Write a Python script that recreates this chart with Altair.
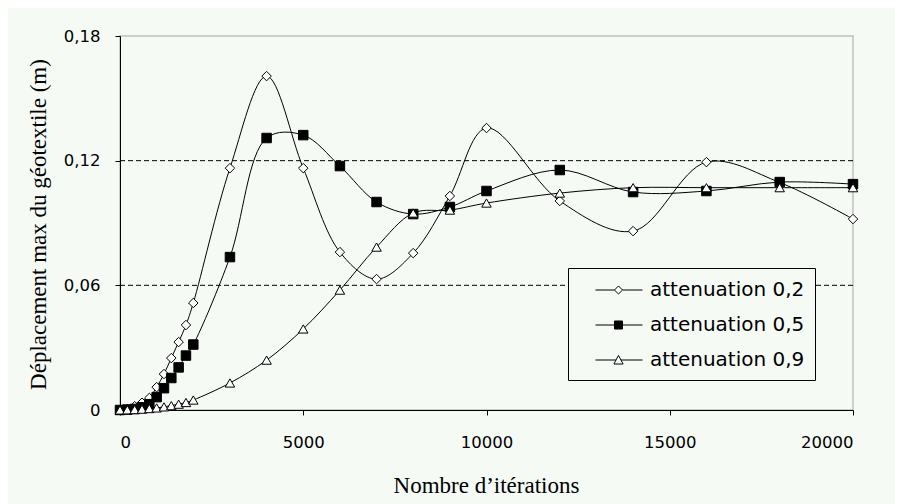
import altair as alt
import pandas as pd

# ---- data ----
iterations = [0, 200, 400, 600, 800, 1000, 1200, 1400, 1600, 1800, 2000,
              3000, 4000, 5000, 6000, 7000, 8000, 9000, 10000,
              12000, 14000, 16000, 18000, 20000]
att_02 = [0, 0.0006, 0.0018, 0.0035, 0.0058, 0.011, 0.0173, 0.025, 0.0327, 0.0409, 0.0515,
          0.1164, 0.1607, 0.1164, 0.076, 0.063, 0.0755, 0.103, 0.1357,
          0.1006, 0.0861, 0.1193, 0.1095, 0.0919]
att_05 = [0, 0.0002, 0.0005, 0.0013, 0.0028, 0.0062, 0.0105, 0.0154, 0.0205, 0.0262, 0.0315,
          0.0736, 0.1309, 0.1323, 0.1174, 0.1001, 0.0943, 0.0977, 0.1054,
          0.1155, 0.1049, 0.1054, 0.1097, 0.1087]
att_09 = [0, 0.0001, 0.0002, 0.0004, 0.0007, 0.001, 0.0015, 0.0021, 0.0028, 0.0036, 0.0048,
          0.013, 0.024, 0.039, 0.0577, 0.0784, 0.0948, 0.0962, 0.0996,
          0.1044, 0.107, 0.107, 0.107, 0.107]
series_names = ["attenuation 0,2", "attenuation 0,5", "attenuation 0,9"]
x_ticks = [0, 5000, 10000, 15000, 20000]
y_ticks = [0, 0.06, 0.12, 0.18]
y_tick_labels = ["0", "0,06", "0,12", "0,18"]
grid_values = [0.06, 0.12]

x_title = "Nombre d\u2019itérations"
y_title = "Déplacement max du géotextile (m)"

# ---- build tables ----
rows = []
for name, vals in zip(series_names, [att_02, att_05, att_09]):
    for it, v in zip(iterations, vals):
        rows.append({"iter": it, "disp": v, "series": name})
df = pd.DataFrame(rows)
grid_df = pd.DataFrame({"disp": grid_values})

y_label_expr = " : ".join(
    f"datum.value == {v} ? '{lab}'" for v, lab in zip(y_ticks, y_tick_labels)
) + " : ''"

x_axis = alt.Axis(values=x_ticks, format="d", title=x_title, tickSize=5,
                  labelPadding=19, titleX=366, titleY=82,
                  titleBaseline="alphabetic", titleAlign="center")
y_axis = alt.Axis(values=y_ticks, labelExpr=y_label_expr, title=y_title, tickSize=5,
                  labelPadding=15, titleX=-75, titleY=188, titleAngle=-90,
                  titleBaseline="alphabetic", titleAlign="center")
x_scale = alt.Scale(domain=[0, 20000], nice=False)
y_scale = alt.Scale(domain=[0, 0.18], nice=False)

X = alt.X("iter:Q", scale=x_scale, axis=x_axis)
Y = alt.Y("disp:Q", scale=y_scale, axis=y_axis)

grid = alt.Chart(grid_df).mark_rule(color="black", strokeDash=[5, 3], strokeWidth=1).encode(
    y=Y
)

lines = alt.Chart(df).mark_line(interpolate="catmull-rom", color="black", strokeWidth=1).encode(
    x=X, y=Y, detail="series:N"
)

points = alt.Chart(df).mark_point(filled=True, stroke="black", strokeWidth=1, size=90,
                                  opacity=1).encode(
    x=X, y=Y,
    shape=alt.Shape("series:N", scale=alt.Scale(domain=series_names,
                    range=["diamond", "square", "triangle-up"]), legend=None),
    fill=alt.Fill("series:N", scale=alt.Scale(domain=series_names,
                  range=["white", "black", "white"]), legend=None),
)

# legend symbols: line with marker in the middle
leg_diamond = "M0.478,0H2.128 M2.828,0H4.565 M2.478,-0.35L2.828,0L2.478,0.35L2.128,0Z"
leg_square = "M0.478,0H4.565 M2.128,-0.35H2.828V0.35H2.128Z"
leg_triangle = "M0.478,0H2.265 M2.691,0H4.565 M2.478,-0.4L2.878,0.35H2.078Z"

legend_layer = alt.Chart(df).transform_filter("false").mark_point(
    filled=True, strokeWidth=1, size=529, opacity=1).encode(
    x=X, y=Y,
    shape=alt.Shape("series:N", scale=alt.Scale(domain=series_names,
                    range=[leg_diamond, leg_square, leg_triangle]),
                    legend=alt.Legend(title=None)),
    fill=alt.Fill("series:N", scale=alt.Scale(domain=series_names,
                  range=["white", "black", "white"]),
                  legend=alt.Legend(title=None)),
    stroke=alt.Stroke("series:N", scale=alt.Scale(domain=series_names,
                      range=["black", "black", "black"]),
                      legend=alt.Legend(title=None)),
)

chart = alt.layer(grid, lines, points, legend_layer).resolve_scale(
    shape="independent", fill="independent", stroke="independent"
).properties(
    width=733, height=374,
    autosize=alt.AutoSizeParams(type="none"),
    padding={"left": 112, "top": 28, "right": 42, "bottom": 94},
    background="#F5FAF5",
).configure_view(
    stroke="#C0C0C0", strokeWidth=1.5
).configure_axis(
    domainColor="black", tickColor="black", labelColor="black",
    labelFont="DejaVu Sans", labelFontSize=16.5,
    titleFont="Liberation Serif", titleFontSize=23, titleFontWeight="normal",
    titleColor="black", grid=False, domainWidth=1, tickWidth=1,
).configure_legend(
    orient="none", legendX=448, legendY=232,
    strokeColor="black", fillColor="#F5FAF5", padding=10,
    labelFont="DejaVu Sans", labelFontSize=20, labelColor="black",
    labelOffset=48, rowPadding=13, symbolSize=529,
    symbolStrokeColor="black", symbolStrokeWidth=1, symbolOpacity=1,
    labelLimit=400,
)

chart.save("out.html", embed_options={"renderer": "svg", "actions": False})
